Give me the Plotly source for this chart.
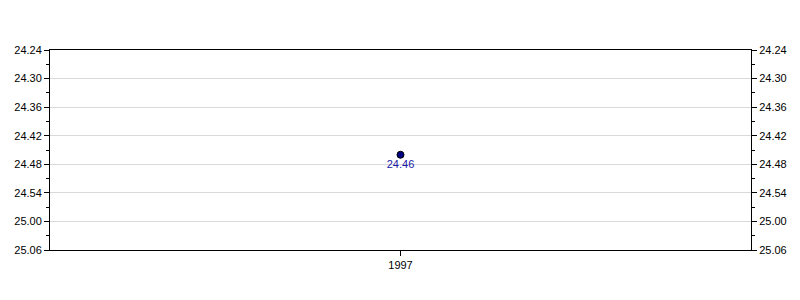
import plotly.graph_objects as go

years = ["1997"]
times = ["24.46"]          # minutes.seconds
tick_labels = ["24.24", "24.30", "24.36", "24.42", "24.48", "24.54", "25.00", "25.06"]


def to_sec(s):
    m, sec = s.split(".")
    return int(m) * 60 + int(sec)


y_vals = [to_sec(t) for t in times]
tick_vals = [to_sec(t) for t in tick_labels]
y_range = [tick_vals[-1], tick_vals[0]]

font = dict(family="Liberation Sans, Arial, sans-serif", size=11, color="#000000")

fig = go.Figure()
fig.add_trace(go.Scatter(
    x=years, y=y_vals, mode="markers+text",
    text=times, textposition="bottom center",
    textfont=dict(family="Liberation Sans, Arial, sans-serif", size=11, color="#1a1aa6"),
    marker=dict(size=7, color="#000080", line=dict(color="#000000", width=1)),
    showlegend=False, cliponaxis=False,
))
# invisible trace for right axis
fig.add_trace(go.Scatter(x=years, y=y_vals, yaxis="y2", mode="markers",
                         marker=dict(opacity=0), showlegend=False, hoverinfo="skip"))

axis_common = dict(
    range=y_range, tickmode="array", tickvals=tick_vals, ticktext=tick_labels,
    ticks="outside", ticklen=5, tickcolor="#000000", tickwidth=1,
    showline=True, linecolor="#000000", linewidth=1,
    tickfont=font, zeroline=False,
    minor=dict(ticks="outside", ticklen=3, tickcolor="#000000", dtick=3,
               tick0=tick_vals[0], showgrid=False),
)

fig.update_layout(
    width=800, height=300,
    margin=dict(l=50, r=49, t=50, b=50),
    paper_bgcolor="#ffffff", plot_bgcolor="#ffffff",
    font=font,
    xaxis=dict(type="category", showline=True, linecolor="#000000", linewidth=1,
               mirror=True, ticks="outside", ticklen=5, tickcolor="#000000",
               showgrid=False, tickfont=font, range=[-1, 1]),
    yaxis=dict(**axis_common, showgrid=True, gridcolor="#d9d9d9", gridwidth=1, side="left"),
    yaxis2=dict(**axis_common, showgrid=False, overlaying="y", side="right"),
)

fig.write_html("out.html")
